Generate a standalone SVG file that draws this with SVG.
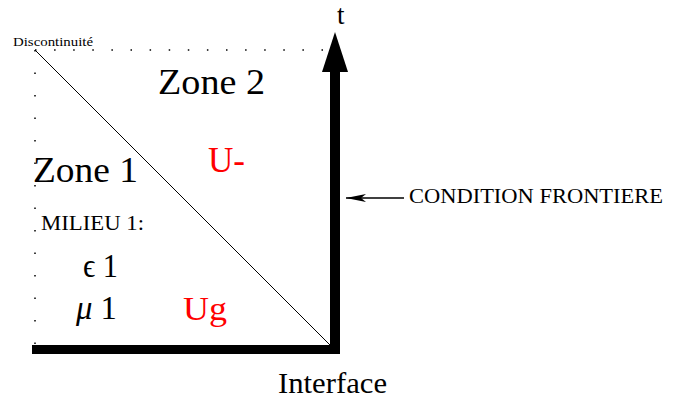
<svg xmlns="http://www.w3.org/2000/svg" width="673" height="400" viewBox="0 0 673 400">
<style>
text{font-family:"Liberation Serif","Times New Roman",serif;fill:#000}
.red{fill:#ff0000}
.dot{stroke:#000;stroke-width:1.5;stroke-dasharray:1.5 17.6;fill:none}
</style>
<defs>
<marker id="ah" markerWidth="20" markerHeight="10" refX="20" refY="5" orient="auto" markerUnits="userSpaceOnUse">
<path d="M0,1 L20,5 L0,9 L5,5 Z" fill="#000"/>
</marker>
</defs>
<rect width="673" height="400" fill="#fff"/>
<g id="connectors">
<path class="dot" d="M35,50 H330"/>
<path class="dot" d="M35,50 V345" style="stroke-dasharray:1.5 21"/>
<line x1="35" y1="50" x2="330" y2="345" stroke="#000" stroke-width="1"/>
<rect x="32" y="345" width="308" height="9" fill="#000"/>
<rect x="330" y="70" width="10" height="284" fill="#000"/>
<path d="M335,32 L348,72 L322,72 Z" fill="#000"/>
<line x1="404" y1="198" x2="346" y2="198" stroke="#000" stroke-width="1.3" marker-end="url(#ah)"/>
</g>
<g id="t"><text x="337" y="24" font-size="27">t</text></g>
<g id="discontinuite"><text x="13" y="46" font-size="13" textLength="80" lengthAdjust="spacingAndGlyphs">Discontinuité</text></g>
<g id="zone2"><text x="158" y="94" font-size="36" textLength="107" lengthAdjust="spacingAndGlyphs">Zone 2</text></g>
<g id="zone1"><text x="33" y="182" font-size="36" textLength="105" lengthAdjust="spacingAndGlyphs">Zone 1</text></g>
<g id="uminus"><text class="red" x="208" y="172" font-size="35" textLength="37" lengthAdjust="spacingAndGlyphs">U-</text></g>
<g id="ug"><text class="red" x="183" y="320" font-size="34" textLength="44" lengthAdjust="spacingAndGlyphs">Ug</text></g>
<g id="milieu"><text x="41" y="230" font-size="21" textLength="103" lengthAdjust="spacingAndGlyphs">MILIEU 1:</text></g>
<g id="eps"><text x="83" y="277" font-size="34" textLength="35" lengthAdjust="spacingAndGlyphs">ϵ 1</text></g>
<g id="mu"><text x="76" y="319" font-size="34" textLength="41" lengthAdjust="spacingAndGlyphs"><tspan font-style="italic">μ</tspan> 1</text></g>
<g id="condition"><text x="409" y="203" font-size="21" textLength="254" lengthAdjust="spacingAndGlyphs">CONDITION FRONTIERE</text></g>
<g id="interface"><text x="278" y="393" font-size="29" textLength="109" lengthAdjust="spacingAndGlyphs">Interface</text></g>
</svg>
